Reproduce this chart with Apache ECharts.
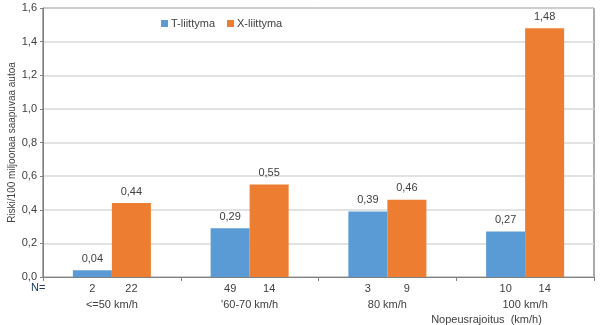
<!DOCTYPE html>
<html><head><meta charset="utf-8">
<script src="https://cdn.jsdelivr.net/npm/echarts@6/dist/echarts.min.js"></script>
<style>html,body{margin:0;padding:0;background:#fff}#c{width:600px;height:325px}</style>
</head><body><div id="c"></div>
<script>
const categories = ["<=50 km/h", "'60-70 km/h", "80 km/h", "100 km/h"];
const nT = [2, 49, 3, 10];
const nX = [22, 14, 9, 14];
const tValues = [0.04, 0.29, 0.39, 0.27];
const xValues = [0.44, 0.55, 0.46, 1.48];
const seriesNames = ["T-liittyma", "X-liittyma"];
const yTitle = "Riski/100 miljoonaa saapuvaa autoa";
const xTitle = "Nopeusrajoitus  (km/h)";

const font = "Arial, 'Liberation Sans', sans-serif";
const txt = '#404040';
const chart = echarts.init(document.getElementById('c'), null, {renderer: 'canvas'});
const fmt = v => v.toFixed(2).replace('.', ',');
chart.setOption({
  animation: false,
  textStyle: {fontFamily: font},
  grid: {left: 43, right: 6, top: 8, bottom: 48, show: true, borderColor: '#595959', borderWidth: 1,
         containLabel: false, outerBoundsMode: 'none'},
  legend: {
    left: 156, top: 13, itemWidth: 7, itemHeight: 7, itemGap: 12,
    icon: 'rect',
    textStyle: {fontFamily: font, fontSize: 11, color: txt, padding: [0,0,0,-2]},
    data: seriesNames
  },
  graphic: [{type: 'text', left: 31, top: 282, style: {text: 'N=', font: '11px ' + font, fill: '#1F3864'}}],
  xAxis: {
    type: 'category', data: categories,
    axisLine: {lineStyle: {color: '#808080', width: 1}},
    axisTick: {show: true, length: 4, lineStyle: {color: '#808080'}},
    axisLabel: {
      margin: 4,
      formatter: (v, i) => '{n|' + nT[i] + '}{n|' + nX[i] + '}\n{c|' + v + '}',
      rich: {
        n: {width: 39, align: 'center', fontSize: 11, color: txt, fontFamily: font, lineHeight: 16},
        c: {fontSize: 11, color: txt, fontFamily: font, lineHeight: 16, align: 'center'}
      }
    },
    name: xTitle, nameLocation: 'middle', nameGap: 37, nameMoveOverlap: false,
    nameTextStyle: {fontSize: 11, color: txt, fontFamily: font, padding: [0, 0, 0, 336]}
  },
  yAxis: {
    type: 'value', min: 0, max: 1.6, interval: 0.2,
    axisLine: {show: true, lineStyle: {color: '#808080'}},
    axisTick: {show: true, length: 3, lineStyle: {color: '#808080'}},
    axisLabel: {fontSize: 11, color: txt, fontFamily: font, margin: 6, formatter: v => v.toFixed(1).replace('.', ',')},
    splitLine: {lineStyle: {color: '#D9D9D9', width: 1.5}},
    name: yTitle, nameLocation: 'middle', nameGap: 26, nameMoveOverlap: false,
    nameTextStyle: {fontSize: 10, color: txt, fontFamily: font}
  },
  series: [
    {name: seriesNames[0], type: 'bar', data: tValues, barWidth: 39, barGap: '0%',
     itemStyle: {color: '#5B9BD5'},
     label: {show: true, position: 'top', distance: 6, fontSize: 11, color: txt, fontFamily: font, formatter: p => fmt(p.value)}},
    {name: seriesNames[1], type: 'bar', data: xValues, barWidth: 39, barGap: '0%',
     itemStyle: {color: '#ED7D31'},
     label: {show: true, position: 'top', distance: 6, fontSize: 11, color: txt, fontFamily: font, formatter: p => fmt(p.value)}}
  ]
});
</script></body></html>
